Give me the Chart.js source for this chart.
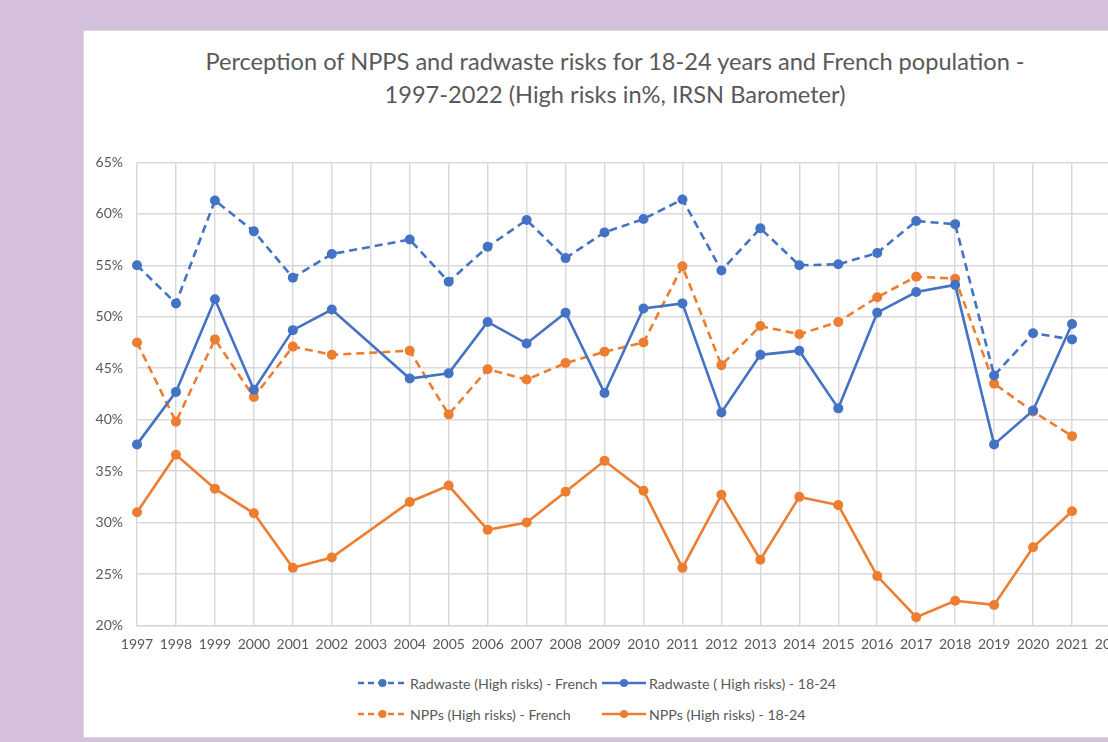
<!DOCTYPE html>
<html>
<head>
<meta charset="utf-8">
<script src="https://cdn.jsdelivr.net/npm/chart.js@4"></script>
<style>
    body { margin: 0; width: 1108px; height: 742px; overflow: hidden; background: #d4c0dc; font-family: Lato, sans-serif; }
    #panel { position: absolute; left: 83px; top: 30px; width: 1080px; height: 706px; background: #fff; border: 1px solid #d9d9d9; }
    #title { position: absolute; left: 83px; top: 45px; width: 1064px; text-align: center; font-size: 23.6px; line-height: 33px; color: #595959; }
    #chartBox { position: absolute; left: 83px; top: 139.5px; width: 1070px; height: 515.5px; }
    .leg { position: absolute; display: flex; align-items: center; font-size: 14.2px; color: #595959; white-space: nowrap; }
    .leg svg { margin-right: 3px; }
</style>
</head>
<body>
<div id="panel"></div>
<div id="title">Perception of NPPS and radwaste risks for 18-24 years and French population -<br>1997-2022 (High risks in%, IRSN Barometer)</div>
<div id="chartBox"><canvas id="riskChart"></canvas></div>
<div id="legend"></div>
<script>
// years on the x axis (2003 has no survey point)
const years = ['1997', '1998', '1999', '2000', '2001', '2002', '2003', '2004', '2005', '2006', '2007', '2008', '2009',
    '2010', '2011', '2012', '2013', '2014', '2015', '2016', '2017', '2018', '2019', '2020', '2021', '2022'];

// % answering "high risks"
const radwasteFrench = [55.0, 51.3, 61.3, 58.3, 53.8, 56.1, null, 57.5, 53.4, 56.8, 59.4, 55.7, 58.2,
    59.5, 61.4, 54.5, 58.6, 55.0, 55.1, 56.2, 59.3, 59.0, 44.3, 48.4, 47.8, null];
const radwasteYoung = [37.6, 42.7, 51.7, 42.9, 48.7, 50.7, null, 44.0, 44.5, 49.5, 47.4, 50.4, 42.6,
    50.8, 51.3, 40.7, 46.3, 46.7, 41.1, 50.4, 52.4, 53.1, 37.6, 40.9, 49.3, null];
const nppFrench = [47.5, 39.8, 47.8, 42.2, 47.1, 46.3, null, 46.7, 40.5, 44.9, 43.9, 45.5, 46.6,
    47.5, 54.9, 45.3, 49.1, 48.3, 49.5, 51.9, 53.9, 53.7, 43.5, 40.8, 38.4, null];
const nppYoung = [31.0, 36.6, 33.3, 30.9, 25.6, 26.6, null, 32.0, 33.6, 29.3, 30.0, 33.0, 36.0,
    33.1, 25.6, 32.7, 26.4, 32.5, 31.7, 24.8, 20.8, 22.4, 22.0, 27.6, 31.1, null];

const yTicks = [20, 25, 30, 35, 40, 45, 50, 55, 60, 65];

const BLUE = '#4472c4';
const ORANGE = '#ed7d31';
const DASH = [8, 5];

const series = [
    { label: 'Radwaste (High risks) - French', data: radwasteFrench, color: BLUE, dashed: true },
    { label: 'Radwaste ( High risks) - 18-24', data: radwasteYoung, color: BLUE, dashed: false },
    { label: 'NPPs (High risks) - French', data: nppFrench, color: ORANGE, dashed: true },
    { label: 'NPPs (High risks) - 18-24', data: nppYoung, color: ORANGE, dashed: false }
];

document.addEventListener('DOMContentLoaded', () => {
    initRiskChart();
    renderLegend();
});

function initRiskChart() {
    const ctx = document.getElementById('riskChart').getContext('2d');

    new Chart(ctx, {
        type: 'line',
        data: {
            labels: years,
            datasets: series.map(s => ({
                label: s.label,
                data: s.data,
                borderColor: s.color,
                backgroundColor: s.color,
                borderWidth: 2.6,
                borderDash: s.dashed ? DASH : [],
                pointRadius: 5,
                pointBorderWidth: 0,
                pointBackgroundColor: s.color,
                tension: 0,
                spanGaps: true
            }))
        },
        options: {
            responsive: true,
            maintainAspectRatio: false,
            animation: false,
            layout: { padding: { top: 11.5, right: 42, left: 0, bottom: 0 } },
            scales: {
                x: {
                    offset: false,
                    grid: { color: '#d9d9d9', lineWidth: 1.5, drawTicks: false },
                    border: { color: '#d9d9d9', width: 1.5 },
                    ticks: {
                        color: '#595959',
                        font: { family: 'Lato', size: 14 },
                        padding: 11,
                        maxRotation: 0,
                        autoSkip: false
                    },
                    afterFit: scale => { scale.height = 30; }
                },
                y: {
                    min: yTicks[0],
                    max: yTicks[yTicks.length - 1],
                    afterBuildTicks: scale => { scale.ticks = yTicks.map(v => ({ value: v })); },
                    grid: { color: '#d9d9d9', lineWidth: 1.5, drawTicks: false },
                    border: { display: false },
                    ticks: {
                        color: '#595959',
                        font: { family: 'Lato', size: 14 },
                        padding: 14,
                        callback: v => v + '%'
                    },
                    afterFit: scale => { scale.width = 54; }
                }
            },
            plugins: {
                legend: { display: false },
                title: { display: false },
                tooltip: { enabled: false }
            }
        }
    });
}

// excel-style legend in two rows
function renderLegend() {
    const box = document.getElementById('legend');
    const spots = [
        { left: 358, top: 674, w: 49 },
        { left: 602, top: 674, w: 44 },
        { left: 358, top: 705, w: 49 },
        { left: 602, top: 705, w: 44 }
    ];
    series.forEach((s, i) => {
        const p = spots[i];
        const item = document.createElement('div');
        item.className = 'leg';
        item.style.left = p.left + 'px';
        item.style.top = p.top + 'px';
        item.style.height = '18px';
        const dash = s.dashed ? 'stroke-dasharray="6 4"' : '';
        item.innerHTML = `
            <svg width="${p.w}" height="12"><line x1="0" y1="6" x2="${p.w}" y2="6" stroke="${s.color}" stroke-width="2.6" ${dash}/>
            <circle cx="${p.w / 2}" cy="6" r="4" fill="${s.color}"/></svg>
            <span>${s.label}</span>`;
        box.appendChild(item);
    });
}
</script>
</body>
</html>
